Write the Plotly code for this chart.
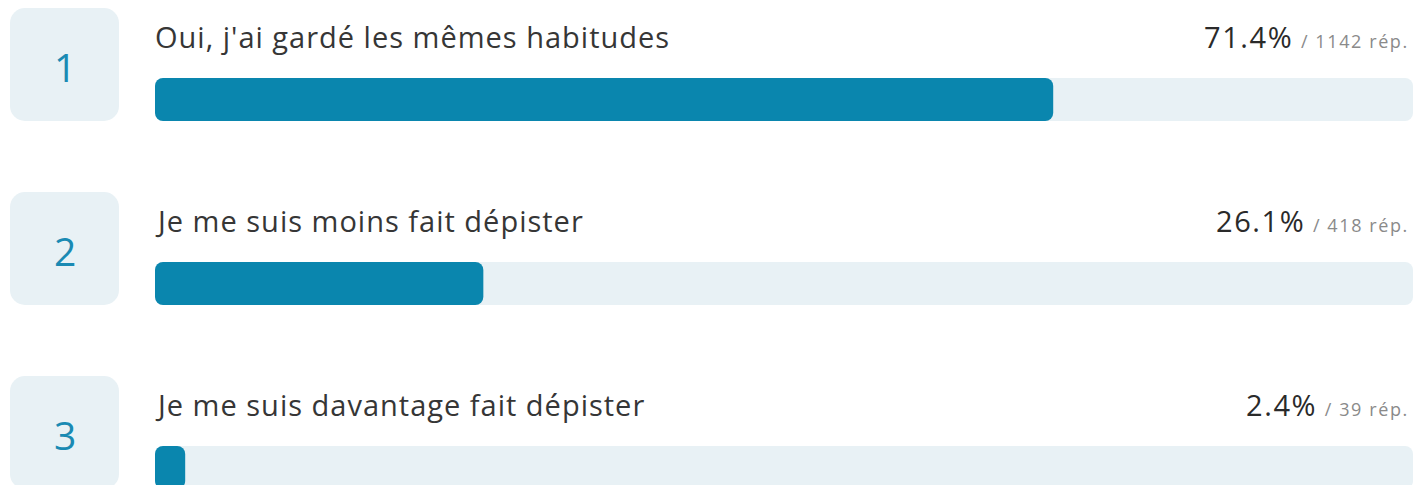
import plotly.graph_objects as go

labels = ["Oui, j'ai gardé les mêmes habitudes", "Je me suis moins fait dépister", "Je me suis davantage fait dépister"]
ranks = ["1", "2", "3"]
percents = [71.4, 26.1, 2.4]
counts = [1142, 418, 39]

W, H = 1416, 485
PITCH = 184.0
y0 = -99.5 / PITCH
yrange = [y0 + H / PITCH, y0]
rows = list(range(len(labels)))

FILL = "#0a86ae"
TRACK = "#e8f1f5"
FONT = "Open Sans"

fig = go.Figure()
# number boxes
fig.add_trace(go.Bar(
    x=[1] * len(rows), base=[0] * len(rows), y=[r - 35 / PITCH for r in rows], orientation="h",
    width=113 / PITCH, xaxis="x2", yaxis="y",
    marker=dict(color=TRACK, cornerradius=15, line=dict(width=0)),
    hoverinfo="skip", showlegend=False,
))
# tracks
fig.add_trace(go.Bar(
    x=[100] * len(rows), base=[0] * len(rows), y=rows, orientation="h", width=43 / PITCH,
    marker=dict(color=TRACK, cornerradius=8, line=dict(width=0)),
    hoverinfo="skip", showlegend=False,
))
# fills
fig.add_trace(go.Bar(
    x=percents, base=[0] * len(rows), y=rows, orientation="h", width=43 / PITCH,
    marker=dict(color=FILL, cornerradius=8, line=dict(width=0)),
    hovertemplate="%{x}%<extra></extra>", showlegend=False,
))

annotations = []
for r, lab, p, c, rk in zip(rows, labels, percents, counts, ranks):
    annotations.append(dict(
        x=0.5, y=r - 33 / PITCH, xref="x2", yref="y", text=rk, showarrow=False,
        xanchor="center", yanchor="middle", font=dict(family=FONT, size=39, color="#1a8ab3"),
    ))
    annotations.append(dict(
        x=0, y=r - 63 / PITCH, xref="x", yref="y", xshift=-2,
        text=f"<span style='letter-spacing:1px'>{lab}</span>", showarrow=False,
        xanchor="left", yanchor="middle", font=dict(family=FONT, size=29, color="#363636"),
    ))
    annotations.append(dict(
        x=100, y=r - 63 / PITCH, xref="x", yref="y",
        text=(f"<span style='letter-spacing:1.6px'>{p}%</span> "
              f"<span style='font-size:18px;color:#8a8a8a;letter-spacing:1.6px'>/ {c} rép.</span>"),
        showarrow=False, xanchor="right", yanchor="middle", xshift=-2,
        font=dict(family=FONT, size=29, color="#2a2a2a"),
    ))

fig.update_layout(
    width=W, height=H, margin=dict(l=0, r=0, t=0, b=0),
    paper_bgcolor="white", plot_bgcolor="white", barmode="overlay",
    xaxis=dict(domain=[155 / W, 1413 / W], range=[0, 100], visible=False, fixedrange=True),
    xaxis2=dict(domain=[10 / W, 119 / W], range=[0, 1], visible=False, anchor="y", fixedrange=True),
    yaxis=dict(range=yrange, visible=False, fixedrange=True),
    annotations=annotations,
)

fig.write_html("out.html", config={"displayModeBar": False},
               post_script="document.body.style.margin='0';")
